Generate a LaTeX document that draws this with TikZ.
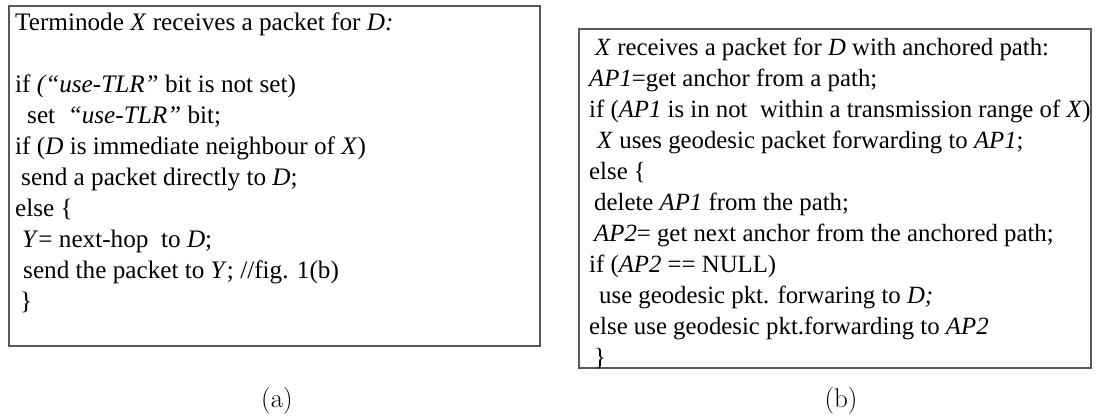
\documentclass[tikz,border=0pt]{standalone}
\usepackage{fontspec}
\setmainfont{Liberation Serif}
\newfontfamily\lmfont{Latin Modern Roman}
\begin{document}
\begin{tikzpicture}[x=1pt,y=-1pt,
  box/.style={draw=black!65, line width=1.3pt},
  code/.style={anchor=base west, inner sep=0pt, font=\fontsize{25.2}{30}\selectfont},
  codeb/.style={anchor=base west, inner sep=0pt, font=\fontsize{24.8}{30}\selectfont},
  lab/.style={inner sep=0pt, font=\lmfont\fontsize{27}{30}\selectfont}]
\useasboundingbox (0,0) rectangle (1112,418);
% left box
\draw[box] (9,6) rectangle (540,346);
\node[code] (a1) at (15,30) {Terminode \textit{X} receives a packet for \textit{D:}};
\node[code] (a2) at (15,92) {if \textit{(“use-TLR”} bit is not set)};
\node[code] (a3) at (15,123) {\hspace{12pt}set\ \ \textit{“use-TLR”} bit;};
\node[code] (a4) at (15,154) {if (\textit{D} is immediate neighbour of \textit{X})};
\node[code] (a5) at (15,185) {\hspace{6pt}send a packet directly to \textit{D};};
\node[code] (a6) at (15,216) {else \{};
\node[code] (a7) at (15,247) {\hspace{7pt}\textit{Y}= next-hop\ \ to \textit{D};};
\node[code] (a8) at (15,278) {\hspace{8pt}send the packet to \textit{Y}; //fig. 1(b)};
\node[code] (a9) at (15,309) {\hspace{5pt}\}};
% right box
\draw[box] (579,29) rectangle (1091,368);
\node[codeb] (b1) at (589,55) {\hspace{6pt}\textit{X} receives a packet for \textit{D} with anchored path:};
\node[codeb] (b2) at (589,86) {\textit{AP1}=get anchor from a path;};
\node[codeb] (b3) at (589,117) {if (\textit{AP1} is in not\ \ within a transmission range of \textit{X})};
\node[codeb] (b4) at (589,148) {\hspace{8pt}\textit{X} uses geodesic packet forwarding to \textit{AP1};};
\node[codeb] (b5) at (589,179) {else \{};
\node[codeb] (b6) at (589,210) {\hspace{5pt}delete \textit{AP1} from the path;};
\node[codeb] (b7) at (589,241) {\hspace{5pt}\textit{AP2}= get next anchor from the anchored path;};
\node[codeb] (b8) at (589,272) {if (\textit{AP2} == NULL)};
\node[codeb] (b9) at (589,303) {\hspace{10pt}use geodesic pkt. forwaring to \textit{D;}};
\node[codeb] (b10) at (589,334) {else use geodesic pkt.forwarding to \textit{AP2}};
\node[codeb] (b11) at (589,365) {\hspace{5pt}\}};
% captions
\node[lab] (ca) at (277,401) {(a)};
\node[lab] (cb) at (841,401) {(b)};
\end{tikzpicture}
\end{document}
